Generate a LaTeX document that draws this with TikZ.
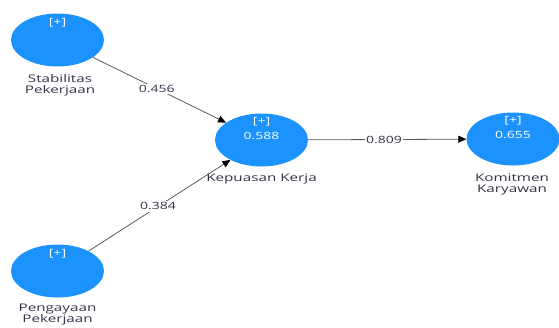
\documentclass[tikz,border=0pt]{standalone}
\usepackage{fontspec}
\usetikzlibrary{shapes.geometric,arrows.meta}
\newfontfamily\lblfont[FakeStretch=1.4]{Open Sans}
\newfontfamily\namefont[FakeStretch=1.45]{Open Sans}
\definecolor{lvblue}{RGB}{28,146,255}
\definecolor{lbltext}{RGB}{50,50,70}
\definecolor{pathgray}{RGB}{90,90,90}
\tikzset{
  lv/.style={ellipse, fill=lvblue, minimum width=93bp, minimum height=53bp, inner sep=0pt},
  intext/.style={text=white, font=\lblfont\fontsize{10bp}{12bp}\selectfont, inner sep=0pt},
  nametext/.style={text=lbltext, font=\namefont\fontsize{10.5bp}{11bp}\selectfont, align=center, inner sep=0pt},
  pathline/.style={draw=pathgray, line width=0.8bp, -{Triangle[black,length=8bp,width=7bp]}},
  coef/.style={fill=white, text=lbltext, font=\lblfont\fontsize{10bp}{11bp}\selectfont, inner sep=1.5bp}
}
\begin{document}
\begin{tikzpicture}[x=1bp,y=-1bp]
\useasboundingbox (0,0) rectangle (559,327);
% latent variables
\node[lv] (sp) at (57.5,40) {};
\node[lv] (kk) at (261.5,140) {};
\node[lv] (km) at (513,139) {};
\node[lv] (pp) at (57.5,271) {};
% inner texts
\node[intext] (sp1) at (57.5,23) {[+]};
\node[intext] (kk1) at (261.5,122) {[+]};
\node[intext] (kk2) at (261.5,136) {0.588};
\node[intext] (km1) at (513,121) {[+]};
\node[intext] (km2) at (513,135) {0.655};
\node[intext] (pp1) at (57.5,254) {[+]};
% names
\node[nametext] (spn) at (60,85.5) {Stabilitas\\Pekerjaan};
\node[nametext] (kkn) at (261.5,179) {Kepuasan Kerja};
\node[nametext] (kmn) at (512,184.5) {Komitmen\\Karyawan};
\node[nametext] (ppn) at (57.5,315) {Pengayaan\\Pekerjaan};
% paths
\draw[pathline] (sp) -- node[coef,pos=0.48] (c1) {0.456} (kk);
\draw[pathline] (pp) -- node[coef,pos=0.49] (c2) {0.384} (kk);
\draw[pathline] (kk) -- node[coef,pos=0.48] (c3) {0.809} (km);
\end{tikzpicture}
\end{document}
